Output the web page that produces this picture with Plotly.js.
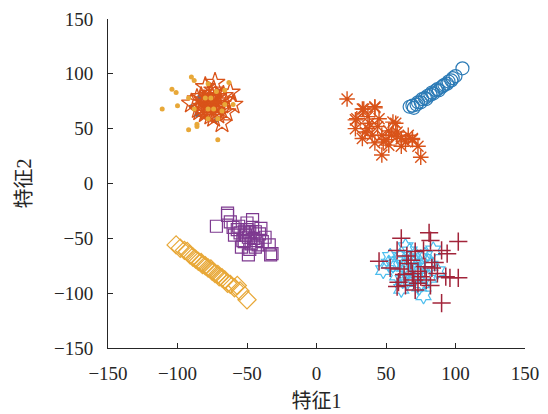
<!DOCTYPE html>
<html>
<head>
<meta charset="utf-8">
<script src="https://cdn.plot.ly/plotly-3.0.1.min.js"></script>
<style>html,body{margin:0;padding:0;background:#fff;}#chart{width:548px;height:414px;}</style>
</head>
<body>
<div id="chart"></div>
<script>
// Blue circles
const circX = [67,69,70,72,73,75,76,78,79,80,82,83,84,86,87,88,90,91,92,94,95,97,98,100,105];
const circY = [70,71,69,72,74,74,77,78,77,80,81,83,82,85,86,85,88,89,90,91,93,94,96,98,105];
// Blue small dots (under the top-left cluster)
const bdotX = [-84,-70,-90,-72,-80,-76,-86];
const bdotY = [79,81,70,58,75,68,63];
// Orange asterisks
const astX = [22,42,34,29,37,45,57,28,37,40,47,54,61,69,47,61,33,52,42,58,73,75,69,33,42,28,55,50,44,38,64,58,52,48,66,35];
const astY = [77,69,68,59,61,59,55,50,50,44,44,44,41,40,26,34,41,35,37,47,34,24,41,68,70,58,56,40,52,55,38,43,48,38,44,47];
// Orange pentagrams
const pentX = [-80,-73,-62,-90,-68,-60,-65,-78,-75,-82,-70,-85,-76,-72,-79,-74,-81,-69,-77,-83,-71,-75,-78,-73,-86,-67,-80,-76,-72,-79,-84,-70,-77,-74,-81,-66];
const pentY = [88,92,83,73,55,72,65,80,78,70,75,68,62,70,66,85,76,68,74,79,63,72,70,67,77,80,64,82,79,72,66,71,77,60,74,76];
// Yellow dots
const ydotX = [-90,-88,-104,-101,-111,-100,-86,-86,-92,-71,-78,-63,-60,-80,-76,-78,-74,-68,-66,-88,-78,-71,-72,-66,-92];
const ydotY = [97,94,86,83,68,71,54,52,49,40,91,92,72,78,78,68,68,66,72,68,59,59,84,85,78];
// Yellow diamonds
const diaX = [-101,-98,-95,-93,-91,-89,-87,-85,-83,-82,-80,-78,-76,-75,-73,-71,-70,-68,-66,-64,-62,-59,-57,-55,-50];
const diaY = [-56,-59,-61,-62,-65,-67,-69,-71,-72,-74,-75,-77,-78,-80,-82,-83,-85,-86,-88,-91,-92,-95,-93,-98,-106];
// Purple squares
const sqX = [-72,-64,-62,-46,-56,-49,-37,-54,-49,-34,-32,-42,-52,-44,-59,-40,-64,-33,-48,-50,-45,-55,-47,-43,-51,-53,-46,-41,-57,-44,-48,-50,-39,-60,-52];
const sqY = [-39,-27,-35,-33,-39,-49,-49,-58,-65,-56,-64,-56,-53,-44,-47,-41,-29,-65,-45,-42,-50,-45,-55,-52,-47,-52,-40,-46,-42,-58,-60,-36,-53,-40,-44];
// Light blue hexagrams
const hexX = [53,64,48,60,84,87,77,61,70,75,55,66,81,71,65,58,68,73,79,62,72,67,76,57,69,74,63,78,52,82];
const hexY = [-67,-58,-79,-67,-61,-80,-102,-96,-74,-68,-74,-80,-86,-65,-90,-84,-70,-77,-72,-88,-82,-62,-91,-71,-86,-94,-76,-66,-73,-75];
// Dark red plus
const plX = [61,81,82,102,45,58,71,77,90,94,53,66,69,78,83,59,64,73,82,93,102,96,90,63,73,58,71,68,75,60,79,85,65,70,87];
const plY = [-50,-45,-52,-53,-71,-61,-62,-61,-61,-64,-77,-73,-82,-76,-77,-90,-93,-91,-93,-85,-86,-86,-109,-83,-80,-94,-97,-70,-85,-78,-88,-72,-66,-88,-82];

const xTitle = '特征1';
const yTitle = '特征2';
const tickVals = [-150,-100,-50,0,50,100,150];

function tr(x, y, symbol, color, size, lw, filled) {
  return {
    x: x, y: y, type: 'scatter', mode: 'markers', hoverinfo: 'skip',
    marker: filled
      ? {symbol: symbol, color: color, size: size, line: {width: 0}}
      : {symbol: symbol, color: color, size: size, line: {color: color, width: lw}}
  };
}

const data = [
  tr(circX, circY, 'circle-open', '#2c7bb6', 13, 1.2),
  tr(bdotX, bdotY, 'circle', '#2c7bb6', 5, 0, true),
  tr(astX, astY, 'asterisk-open', '#d95319', 13, 1.4),
  tr(pentX, pentY, 'star-open', '#d95319', 15, 1.3),
  tr(ydotX, ydotY, 'circle', '#e8a838', 5, 0, true),
  tr(diaX, diaY, 'diamond-open', '#e8a838', 14, 1.2),
  tr(sqX, sqY, 'square-open', '#7e3a90', 12, 1.2),
  tr(hexX, hexY, 'hexagram-open', '#4dbeee', 13, 1.2),
  tr(plX, plY, 'cross-thin-open', '#a2243a', 13, 1.5)
];

const fontFam = 'Liberation Serif, "Times New Roman", "Noto Sans CJK SC", serif';
const axisCommon = {
  range: [-150, 150], tickvals: tickVals, ticks: 'inside', ticklen: 5, tickwidth: 1,
  tickcolor: '#262626', showline: true, linecolor: '#262626', linewidth: 1,
  showgrid: false, zeroline: false, mirror: false,
  tickfont: {family: fontFam, size: 19, color: '#262626'}
};

const layout = {
  width: 548, height: 414,
  margin: {l: 108, r: 23, t: 19, b: 66},
  paper_bgcolor: '#ffffff', plot_bgcolor: '#ffffff',
  showlegend: false,
  xaxis: Object.assign({}, axisCommon, {
    ticklabelstandoff: 8,
    title: {text: xTitle, font: {family: fontFam, size: 20, color: '#262626'}, standoff: 11}
  }),
  yaxis: Object.assign({}, axisCommon, {
    ticklabelstandoff: 10,
    title: {text: yTitle, font: {family: fontFam, size: 20, color: '#262626'}, standoff: 16}
  })
};

Plotly.newPlot('chart', data, layout, {displayModeBar: false, staticPlot: true});
</script>
</body>
</html>
